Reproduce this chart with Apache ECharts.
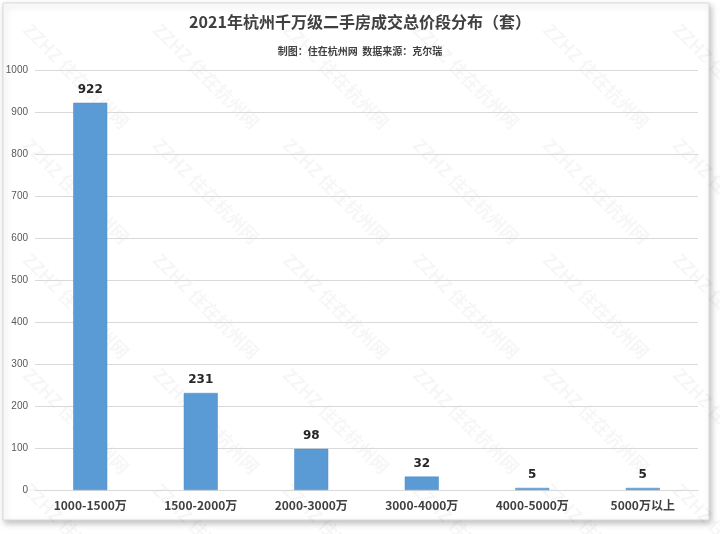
<!DOCTYPE html>
<html><head><meta charset="utf-8">
<script src="https://cdn.jsdelivr.net/npm/echarts@6/dist/echarts.min.js"></script>
<style>html,body{margin:0;padding:0;background:#fff}#c{width:720px;height:534px}</style>
</head><body><div id="c"></div>
<script>
const categories = ['1000-1500万','1500-2000万','2000-3000万','3000-4000万','4000-5000万','5000万以上'];
const values = [922, 231, 98, 32, 5, 5];
const yTicks = [0, 100, 200, 300, 400, 500, 600, 700, 800, 900, 1000];
const titleText = '2021年杭州千万级二手房成交总价段分布（套）';
const subText = '制图：住在杭州网  数据来源：克尔瑞';

const chart = echarts.init(document.getElementById('c'));
const wm = [];
for (let r = 0; r < 5; r++) {
  for (let c = 0; c < 6; c++) {
    wm.push({
      type: 'text', left: 20 + c * 130, top: 20 + r * 115,
      rotation: -Math.PI / 4, silent: true, z: 0,
      style: { text: 'ZZHZ 住在杭州网', fill: 'rgba(0,0,0,0.035)', font: 'bold 18px "Noto Sans CJK SC"' }
    });
  }
}
chart.setOption({
  animation: false,
  backgroundColor: '#fff',
  graphic: [
    { type: 'rect', shape: { x: 3, y: 3, width: 706, height: 517 }, z: -10,
      style: { fill: '#fff', stroke: '#d9d9d9', lineWidth: 1, shadowBlur: 6, shadowOffsetX: 2, shadowOffsetY: 3, shadowColor: 'rgba(0,0,0,0.25)' } }
  ].concat(wm),
  title: [
    { text: titleText, left: 'center', top: 9,
      textStyle: { fontSize: 16, fontWeight: 'bold', color: '#404040', fontFamily: '"Noto Sans CJK SC"' } },
    { text: subText, left: 'center', top: 41,
      textStyle: { fontSize: 10, fontWeight: 'bold', color: '#404040', fontFamily: '"Noto Sans CJK SC"' } }
  ],
  grid: { left: 35, right: 22, top: 70, bottom: 44 },
  xAxis: {
    type: 'category', data: categories,
    axisLine: { lineStyle: { color: '#d9d9d9' } },
    axisTick: { show: false },
    axisLabel: { color: '#404040', fontSize: 12, fontWeight: 'bold', margin: 9, fontFamily: '"Noto Sans CJK SC"' }
  },
  yAxis: {
    type: 'value', min: yTicks[0], max: yTicks[yTicks.length - 1], interval: 100,
    axisLine: { show: false }, axisTick: { show: false },
    splitLine: { lineStyle: { color: '#d9d9d9' } },
    axisLabel: { color: '#595959', fontSize: 10, margin: 7, fontFamily: 'Liberation Sans', formatter: v => String(v) }
  },
  series: [{
    type: 'bar', data: values, barWidth: 34,
    itemStyle: { color: '#5B9BD5', borderColor: '#4a8ac6', borderWidth: 0.5 },
    label: { show: true, position: 'top', distance: 7, color: '#262626', fontSize: 12, fontWeight: 'bold', fontFamily: 'DejaVu Sans' }
  }]
});
</script></body></html>
